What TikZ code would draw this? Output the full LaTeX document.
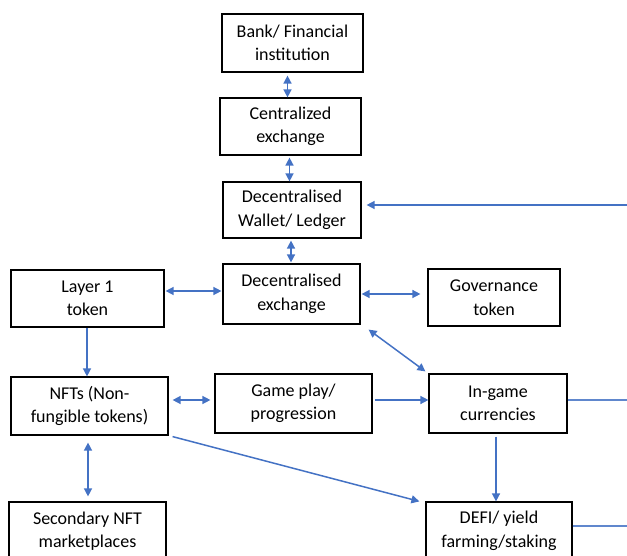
\documentclass[tikz,border=0pt]{standalone}
\usepackage{fontspec}
\setmainfont{Carlito}
\usetikzlibrary{arrows.meta,positioning,calc}
\definecolor{linkblue}{HTML}{4472C4}

\begin{document}
\begin{tikzpicture}[x=1pt,y=-1pt,>={Triangle[length=8pt,width=8pt]}, every node/.style={font=\fontsize{18}{23.5}\selectfont}]
\tikzstyle{box}=[draw,line width=1.2pt,align=center,inner sep=0pt]
\tikzstyle{link}=[draw=linkblue,line width=1.5pt,color=linkblue]
\tikzstyle{stub}=[draw=linkblue!85,line width=1.1pt]
\useasboundingbox (0,0) rectangle (627,556);
\clip (0,0) rectangle (627,556);
\node[box,minimum width=141pt,minimum height=58pt] (bank) at (292.5,43) {Bank/ Financial\\institution};
\node[box,minimum width=141pt,minimum height=57pt] (cex) at (290.5,126.5) {Centralized\\exchange};
\node[box,minimum width=138pt,minimum height=56pt] (wallet) at (292,210) {Decentralised\\Wallet/ Ledger};
\node[box,minimum width=137pt,minimum height=60pt] (dex) at (291.5,294) {Decentralised\\exchange};
\node[box,minimum width=153pt,minimum height=57pt] (layer1) at (87.5,298.5) {Layer 1\\token};
\node[box,minimum width=132pt,minimum height=57pt] (gov) at (494,297.5) {Governance\\token};
\node[box,minimum width=157pt,minimum height=58pt] (nft) at (89.5,406) {NFTs (Non-\\fungible tokens)};
\node[box,minimum width=157pt,minimum height=59pt] (game) at (293.5,403.5) {Game play/\\progression};
\node[box,minimum width=138pt,minimum height=59pt] (ingame) at (498,403.5) {In-game\\currencies};
\node[box,minimum width=157pt,minimum height=58pt] (second) at (87.5,531) {Secondary NFT\\marketplaces};
\node[box,minimum width=146pt,minimum height=58pt] (defi) at (499,531) {DEFI/ yield\\farming/staking};
\coordinate (walletin) at (635,205);
\coordinate (ingameout) at (635,400);
\coordinate (defiout) at (635,526);
% vertical chain
\draw[link,<->,shorten <=3pt] ([xshift=-5pt]bank.south) -- ([xshift=-5pt]bank.south |- cex.north);
\draw[link,<->,shorten <=2pt] ([xshift=-1pt]cex.south) -- ([xshift=-1pt]cex.south |- wallet.north);
\draw[link,<->,shorten <=2pt,shorten >=1pt] ([xshift=-1pt]wallet.south) -- ([xshift=-1pt]wallet.south |- dex.north);
% middle row
\draw[link,<->,shorten <=1pt,shorten >=1pt] ([yshift=7.5pt]layer1.east) -- ([yshift=7.5pt]layer1.east -| dex.west);
\draw[link,<->,shorten <=1pt,shorten >=7pt] (dex.east) -- (dex.east -| gov.west);
\draw[link,<->] ($(dex.south east)+(8,5)$) -- ($(ingame.north west)+(-3,-2)$);
\draw[link,->] ([xshift=-0.5pt]layer1.south) -- ([xshift=-0.5pt]layer1.south |- nft.north);
% game row
\draw[link,<->,shorten <=4pt,shorten >=4pt] ([yshift=6pt]nft.east) -- ([yshift=6pt]nft.east -| game.west);
\draw[link,->,shorten <=2pt] ([yshift=3.5pt]game.east) -- ([yshift=3.5pt]game.east -| ingame.west);
\draw[link,->,shorten <=3pt] ([xshift=-2pt]ingame.south) -- ([xshift=-2pt]ingame.south |- defi.north);
\draw[link,->] ($(nft.south east)+(4,1)$) -- ($(defi.north west)+(-6,0)$);
\draw[link,<->,shorten <=7pt,shorten >=5pt] ([xshift=-1.5pt]nft.south) -- ([xshift=-1.5pt]nft.south |- second.north);
% off to the right
\draw[link,->] (walletin) -- ([xshift=5pt,yshift=5pt]wallet.east);
\draw[stub] ([yshift=3.5pt]ingame.east) -- (ingameout);
\draw[stub] ([yshift=5pt]defi.east) -- (defiout);
\end{tikzpicture}
\end{document}
